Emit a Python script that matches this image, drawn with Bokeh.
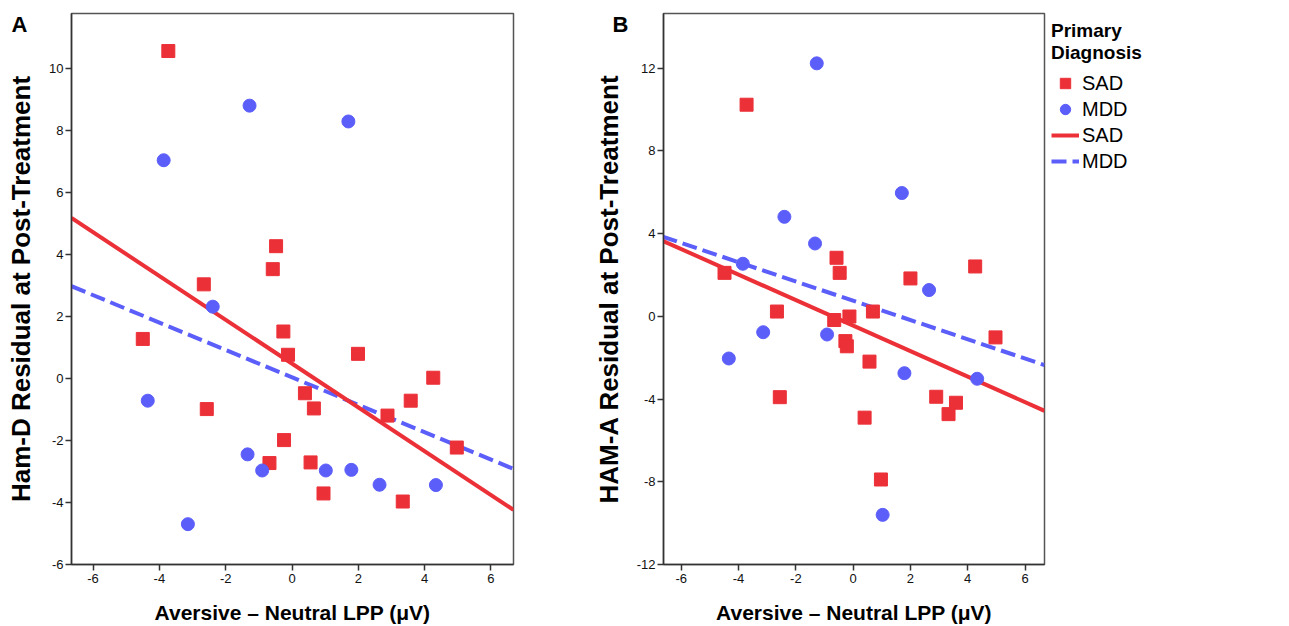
from bokeh.plotting import figure
from bokeh.models import Range1d, FixedTicker, Legend, LegendItem
from bokeh.layouts import row
from bokeh.embed import file_html
from bokeh.resources import INLINE

# ---------------- data ----------------
x_ticks = [-6, -4, -2, 0, 2, 4, 6]
a_y_ticks = [-6, -4, -2, 0, 2, 4, 6, 8, 10]
b_y_ticks = [-12, -8, -4, 0, 4, 8, 12]

# Panel A: Ham-D residual
a_sad_x = [-3.73, -2.66, -0.48, -0.58, -4.50, -2.57, -0.26, -0.12, 1.99, 4.26,
           0.39, 0.66, 3.58, 2.88, 4.97, -0.24, -0.68, 0.56, 0.95, 3.34]
a_sad_y = [10.55, 3.03, 4.26, 3.52, 1.27, -0.99, 1.51, 0.76, 0.79, 0.02,
           -0.48, -0.97, -0.72, -1.20, -2.23, -1.99, -2.73, -2.71, -3.71, -3.97]
a_mdd_x = [-1.28, 1.70, -3.87, -2.39, -4.35, -1.34, -0.90, 1.02, 1.79, 2.64, 4.34, -3.14]
a_mdd_y = [8.79, 8.28, 7.03, 2.31, -0.72, -2.45, -2.97, -2.97, -2.95, -3.43, -3.44, -4.70]

# Panel B: HAM-A residual
b_sad_x = [-3.72, -4.49, -0.58, -0.47, 2.00, 4.26, -2.66, -0.66, -0.13, 0.69,
           -0.27, -0.22, 0.57, 4.97, -2.56, 0.40, 2.90, 3.59, 3.33, 0.97]
b_sad_y = [10.23, 2.10, 2.83, 2.10, 1.83, 2.41, 0.23, -0.18, -0.01, 0.23,
           -1.20, -1.45, -2.19, -1.02, -3.91, -4.90, -3.89, -4.18, -4.73, -7.89]
b_mdd_x = [-1.27, 1.70, -2.40, -1.33, -3.85, 2.65, -3.14, -0.91, -4.34, 1.79, 4.33, 1.03]
b_mdd_y = [12.23, 5.96, 4.81, 3.52, 2.54, 1.27, -0.77, -0.88, -2.04, -2.75, -3.02, -9.60]

# fit lines (endpoints at the x-range edges)
fit_x = [-6.65, 6.68]
a_sad_fit = [5.17, -4.24]
a_mdd_fit = [2.97, -2.92]
b_sad_fit = [3.65, -4.57]
b_mdd_fit = [3.85, -2.36]

RED = "#EC3038"
BLUE = "#5C5EFA"
FONT = "Liberation Sans"


def style(p, yticks, ylabel, letter, letter_offset):
    p.xaxis.ticker = FixedTicker(ticks=x_ticks)
    p.yaxis.ticker = FixedTicker(ticks=yticks)
    p.xaxis.major_label_overrides = {t: str(t) for t in x_ticks}
    p.yaxis.major_label_overrides = {t: str(t) for t in yticks}
    for ax in (p.xaxis[0], p.yaxis[0]):
        ax.minor_tick_line_color = None
        ax.major_tick_in = 0
        ax.major_tick_out = 6
        ax.major_tick_line_color = "#333333"
        ax.major_tick_line_width = 1.5
        ax.axis_line_color = "#333333"
        ax.axis_line_width = 1.5
        ax.major_label_text_font = FONT
        ax.major_label_text_font_size = "13px"
        ax.major_label_text_color = "#111111"
        ax.axis_label_text_font = FONT
        ax.axis_label_text_font_style = "bold"
        ax.axis_label_text_color = "#000000"
    p.xaxis.axis_label = "Aversive \u2013 Neutral LPP (\u03bcV)"
    p.xaxis.axis_label_text_font_size = "21px"
    p.xaxis.axis_label_standoff = 15
    p.xaxis.major_label_standoff = 3
    p.yaxis.axis_label = ylabel
    p.yaxis.axis_label_text_font_size = "26px"
    p.yaxis.axis_label_standoff = 10
    p.yaxis.major_label_standoff = 2
    p.xgrid.visible = False
    p.ygrid.visible = False
    p.outline_line_color = "#555555"
    p.outline_line_width = 1.5
    p.background_fill_color = "white"
    p.border_fill_color = "white"
    # panel letter as the figure title, pulled down-left into the corner
    p.title.text = "\n" + letter
    p.title.align = "left"
    p.title.vertical_align = "bottom"
    p.title.text_font = FONT
    p.title.text_font_style = "bold"
    p.title.text_font_size = "22px"
    p.title.text_color = "#000000"
    p.title.offset = letter_offset
    p.title.standoff = -46


# ---------------- Panel A ----------------
pa = figure(frame_width=442, frame_height=551, output_backend="svg", toolbar_location=None,
            x_range=Range1d(-6.65, 6.68), y_range=Range1d(-6, 11.76),
            min_border_left=71, min_border_right=77, min_border_top=13, min_border_bottom=50)
style(pa, a_y_ticks, "Ham-D Residual at Post-Treatment", "A", -60)
pa.line(fit_x, a_mdd_fit, line_color=BLUE, line_width=4, line_dash="15 6")
pa.line(fit_x, a_sad_fit, line_color=RED, line_width=4)
pa.scatter(a_sad_x, a_sad_y, marker="square", size=13, fill_color=RED, line_color=RED)
pa.scatter(a_mdd_x, a_mdd_y, marker="circle", size=13, fill_color=BLUE, line_color=BLUE)

# ---------------- Panel B ----------------
pb = figure(frame_width=381, frame_height=551, output_backend="svg", toolbar_location=None,
            x_range=Range1d(-6.62, 6.68), y_range=Range1d(-12, 14.64),
            min_border_left=72, min_border_right=240, min_border_top=13, min_border_bottom=50)
style(pb, b_y_ticks, "HAM-A Residual at Post-Treatment", "B", -51)
lb_mdd = pb.line(fit_x, b_mdd_fit, line_color=BLUE, line_width=4, line_dash="15 6")
lb_sad = pb.line(fit_x, b_sad_fit, line_color=RED, line_width=4)
sb_sad = pb.scatter(b_sad_x, b_sad_y, marker="square", size=13, fill_color=RED, line_color=RED)
sb_mdd = pb.scatter(b_mdd_x, b_mdd_y, marker="circle", size=13, fill_color=BLUE, line_color=BLUE)

legend = Legend(items=[LegendItem(label="SAD", renderers=[sb_sad]),
                       LegendItem(label="MDD", renderers=[sb_mdd]),
                       LegendItem(label="SAD", renderers=[lb_sad]),
                       LegendItem(label="MDD", renderers=[lb_mdd])],
                location="top_left", title="Primary\nDiagnosis",
                title_text_font=FONT, title_text_font_style="bold", title_text_font_size="19px",
                title_text_line_height=0.95, title_text_color="#000000", title_standoff=6,
                label_text_font=FONT, label_text_font_size="20px", label_text_color="#000000",
                glyph_width=28, glyph_height=26, spacing=0, label_standoff=3,
                border_line_color=None, background_fill_alpha=0, margin=7, padding=2)
pb.add_layout(legend, "right")

layout = row(pa, pb)
open("out.html", "w").write(file_html(layout, INLINE))
